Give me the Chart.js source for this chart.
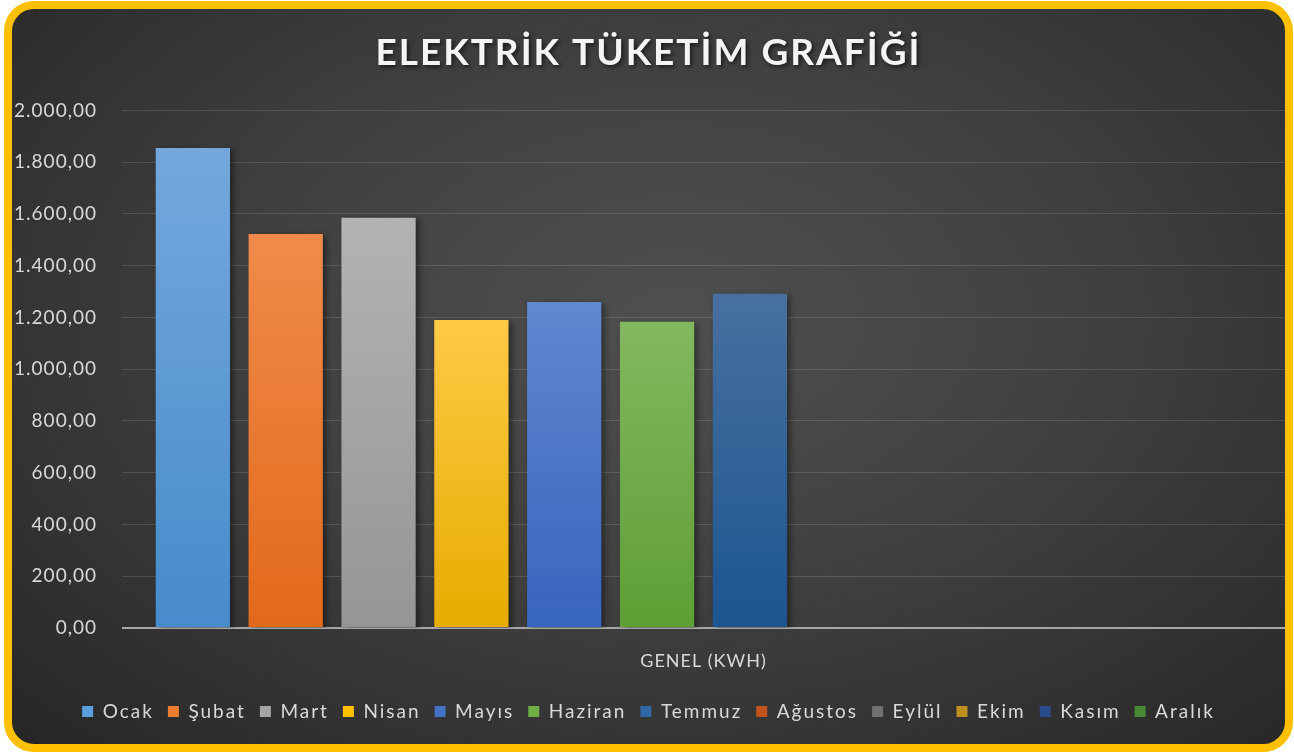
<!DOCTYPE html>
<html>
<head>
<meta charset="utf-8">
<script src="https://cdn.jsdelivr.net/npm/chart.js@4/dist/chart.umd.min.js"></script>
<style>
    html, body { margin: 0; padding: 0; background: #fff; }
    #frame {
        position: absolute; left: 4px; top: 1px; width: 1289px; height: 751px;
        box-sizing: border-box; border: 8px solid #FFC000; border-radius: 30px;
        background: radial-gradient(ellipse at 52% 42%, #4f4f4f 0%, #404040 45%, #262626 100%);
    }
    #chart { position: absolute; left: 0; top: 0; }
</style>
</head>
<body>
<div id="frame"></div>
<canvas id="chart" width="1294" height="755"></canvas>
<script>
// chart data
const categories = ['GENEL (KWH)'];
const months = ['Ocak', 'Şubat', 'Mart', 'Nisan', 'Mayıs', 'Haziran', 'Temmuz', 'Ağustos', 'Eylül', 'Ekim', 'Kasım', 'Aralık'];
const consumption = [1855, 1522, 1585, 1190, 1260, 1183, 1292, 0, 0, 0, 0, 0];
const yMin = 0;
const yMax = 2000;
const yStep = 200;

// bar colours (top of gradient, bottom of gradient, legend swatch)
const topColors = ['#74a8dd', '#f08a4b', '#b3b3b3', '#ffc945', '#6088d0', '#82b860', '#47709f', '#b25a20', '#707070', '#b58c1c', '#2e4e86', '#4f8136'];
const bottomColors = ['#468bcb', '#e2691a', '#959595', '#e6ac00', '#3764bd', '#5e9e34', '#1c5590', '#9a4510', '#5c5c5c', '#936d00', '#223f72', '#3d6427'];
const swatchColors = ['#5b9ee0', '#ed7d31', '#a5a5a5', '#ffc000', '#4472c4', '#70ad47', '#2e69a6', '#c0561c', '#707070', '#bf9020', '#2a4a8a', '#4a8a35'];

const fmt = (v) => {
    const whole = Math.round(v).toString().replace(/\B(?=(\d{3})+(?!\d))/g, '.');
    return whole + ',00';
};

const barFill = (i) => (c) => {
    if (c.type !== 'data' || !c.parsed) return swatchColors[i];
    const y = c.chart.scales.y;
    if (!y) return swatchColors[i];
    const top = y.getPixelForValue(c.parsed.y);
    const bottom = y.getPixelForValue(0);
    if (!isFinite(top) || !isFinite(bottom) || top === bottom) return swatchColors[i];
    const g = c.chart.ctx.createLinearGradient(0, top, 0, bottom);
    g.addColorStop(0, topColors[i]);
    g.addColorStop(1, bottomColors[i]);
    return g;
};

// soft shadow behind the bars
const barShadow = {
    id: 'barShadow',
    beforeDatasetsDraw(chart) {
        const ctx = chart.ctx;
        ctx.save();
        ctx.shadowColor = 'rgba(0,0,0,0.45)';
        ctx.shadowBlur = 6;
        ctx.shadowOffsetX = 3;
        ctx.shadowOffsetY = 2;
    },
    afterDatasetsDraw(chart) {
        chart.ctx.restore();
    }
};

const chart = new Chart(document.getElementById('chart'), {
    type: 'bar',
    data: {
        labels: categories,
        datasets: months.map((m, i) => ({
            label: m,
            data: [consumption[i]],
            backgroundColor: barFill(i),
            borderWidth: 0,
            categoryPercentage: 0.958,
            barPercentage: 0.8
        }))
    },
    plugins: [barShadow],
    options: {
        responsive: false,
        animation: false,
        events: [],
        layout: { padding: { left: 12, right: 9, top: 0, bottom: 24 } },
        plugins: {
            tooltip: { enabled: false },
            title: {
                display: true,
                text: 'ELEKTRİK TÜKETİM GRAFİĞİ',
                color: '#f4f4f4',
                font: { family: 'Lato', size: 37, weight: 'bold' },
                padding: { top: 31, bottom: 35 }
            },
            legend: {
                position: 'bottom',
                labels: {
                    color: '#d9d9d9',
                    font: { family: 'Lato', size: 19 },
                    boxWidth: 11,
                    boxHeight: 11,
                    padding: 14,
                    generateLabels: (ch) => months.map((m, i) => ({
                        text: m,
                        fillStyle: swatchColors[i],
                        strokeStyle: swatchColors[i],
                        lineWidth: 0,
                        fontColor: '#d9d9d9',
                        datasetIndex: i
                    }))
                }
            }
        },
        scales: {
            x: {
                grid: { display: false },
                border: { display: false },
                ticks: {
                    color: '#d9d9d9',
                    font: { family: 'Lato', size: 18 },
                    padding: 14
                },
                afterFit: (s) => { s.height = 60; }
            },
            y: {
                min: yMin,
                max: yMax,
                border: { display: false },
                grid: {
                    drawTicks: false,
                    color: (c) => c.tick && c.tick.value === 0 ? '#a6a6a6' : 'rgba(255,255,255,0.13)',
                    lineWidth: (c) => c.tick && c.tick.value === 0 ? 2 : 1
                },
                ticks: {
                    stepSize: yStep,
                    color: '#d9d9d9',
                    font: { family: 'Lato', size: 19 },
                    padding: 25,
                    callback: (v) => fmt(v)
                },
                afterFit: (s) => { s.width = 110; }
            }
        }
    }
});

// Excel spreads its letters a little; mimic that on the canvas
const spaced = (box, spacing, shadow) => {
    if (!box) return;
    const draw = box.draw.bind(box);
    box.draw = function (...a) {
        const ctx = this.ctx;
        ctx.save();
        ctx.letterSpacing = spacing;
        if (shadow) {
            ctx.shadowColor = 'rgba(0,0,0,0.6)';
            ctx.shadowBlur = 4;
            ctx.shadowOffsetX = 2;
            ctx.shadowOffsetY = 2;
        }
        draw(...a);
        ctx.restore();
    };
    if (typeof box.fit === 'function') {
        const fit = box.fit.bind(box);
        box.fit = function (...a) {
            const ctx = this.ctx;
            ctx.save();
            ctx.letterSpacing = spacing;
            fit(...a);
            ctx.restore();
        };
    }
};
spaced(chart.titleBlock, '2px', true);
spaced(chart.legend, '2px', false);
chart.ctx.letterSpacing = '1px';
chart.update();
</script>
</body>
</html>
